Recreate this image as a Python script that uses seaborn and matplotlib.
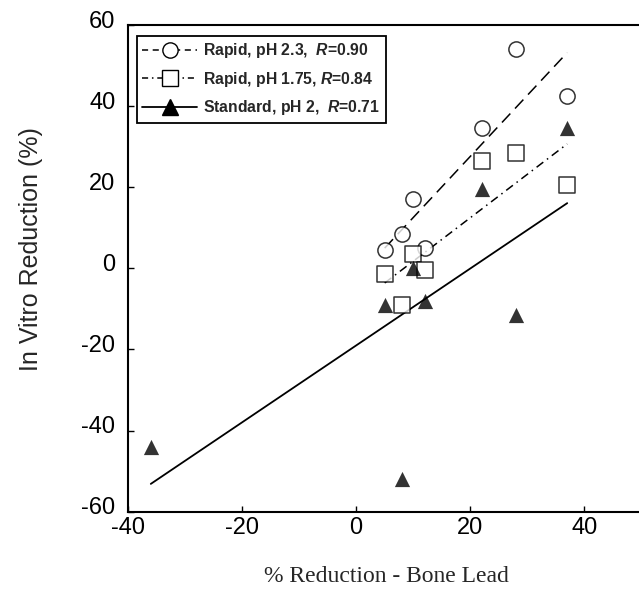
import matplotlib
matplotlib.use("Agg")
import matplotlib.pyplot as plt
import matplotlib.transforms as mtransforms
from matplotlib.lines import Line2D
import seaborn as sns
import pandas as pd

# data
x_rapid = [5, 8, 10, 12, 22, 28, 37]
y_rapid_23 = [4.5, 8.5, 17, 5, 34.5, 54, 42.5]
y_rapid_175 = [-1.5, -9, 3.5, -0.5, 26.5, 28.5, 20.5]
x_std = [-36, 5, 8, 10, 12, 22, 28, 37]
y_std = [-44, -9, -52, 0, -8, 19.5, -11.5, 34.5]

labels = ["Rapid, pH 2.3,  $R$=0.90",
          "Rapid, pH 1.75, $R$=0.84",
          "Standard, pH 2,  $R$=0.71"]

df_23 = pd.DataFrame({"bone": x_rapid, "vitro": y_rapid_23})
df_175 = pd.DataFrame({"bone": x_rapid, "vitro": y_rapid_175})
df_std = pd.DataFrame({"bone": x_std, "vitro": y_std})

sns.set_style("ticks")
plt.rcParams["font.family"] = ["Liberation Sans", "DejaVu Sans"]
plt.rcParams["mathtext.fontset"] = "custom"
plt.rcParams["mathtext.it"] = "Liberation Sans:italic:bold"
plt.rcParams["mathtext.rm"] = "Liberation Sans:bold"
plt.rcParams["axes.unicode_minus"] = False

fig = plt.figure(figsize=(6.39, 5.9), dpi=100)
ax = fig.add_axes([0.2003, 0.1327, 0.8034, 0.8249])

dash_23 = (8, 4.5)
dash_175 = (5.5, 3, 1, 3)

sns.regplot(data=df_23, x="bone", y="vitro", ax=ax, ci=None, truncate=True,
            marker="o",
            scatter_kws=dict(s=120, facecolor="white", edgecolor="black", linewidths=1.1, zorder=3),
            line_kws=dict(color="black", lw=1.1, dashes=dash_23, zorder=2))
sns.regplot(data=df_175, x="bone", y="vitro", ax=ax, ci=None, truncate=True,
            marker="s",
            scatter_kws=dict(s=120, facecolor="white", edgecolor="black", linewidths=1.1, zorder=3),
            line_kws=dict(color="black", lw=1.1, dashes=dash_175, zorder=2))
sns.regplot(data=df_std, x="bone", y="vitro", ax=ax, ci=None, truncate=True,
            marker="^",
            scatter_kws=dict(s=120, color="black", linewidths=0, zorder=4),
            line_kws=dict(color="black", lw=1.3, zorder=2))

ax.set_xlim(-40, 50)
ax.set_ylim(-60, 60)
ax.set_xticks([-40, -20, 0, 20, 40])
ax.set_yticks([-60, -40, -20, 0, 20, 40, 60])
ax.tick_params(direction="in", length=4, width=1, labelsize=17, colors="black")
ax.tick_params(axis="y", pad=9)
ax.tick_params(axis="x", pad=4)
for s in ax.spines.values():
    s.set_linewidth(1.5)
    s.set_color("black")

# y tick labels in the original sit a little above their ticks
off = mtransforms.ScaledTranslation(0, 0.06, fig.dpi_scale_trans)
for lab in ax.get_yticklabels():
    lab.set_transform(lab.get_transform() + off)

ax.set_xlabel("% Reduction - Bone Lead", fontsize=17, family=["Liberation Serif"])
ax.set_ylabel("In Vitro Reduction (%)", fontsize=18)
ax.xaxis.set_label_coords(0.5025, -0.112)
ax.yaxis.set_label_coords(-0.165, 0.54)

handles = [
    Line2D([], [], color="black", lw=1.1, dashes=(4, 3), marker="o", markersize=11,
           markerfacecolor="white", markeredgecolor="black"),
    Line2D([], [], color="black", lw=1.1, dashes=(4, 2.5, 1, 2.5), marker="s", markersize=11,
           markerfacecolor="white", markeredgecolor="black"),
    Line2D([], [], color="black", lw=1.3, marker="^", markersize=11,
           markerfacecolor="black", markeredgecolor="black"),
]
leg = ax.legend(handles, labels, loc="upper left", bbox_to_anchor=(0.017, 0.978),
                frameon=True, fancybox=False, framealpha=1, edgecolor="black",
                handlelength=3.5, handletextpad=0.4, labelspacing=0.6,
                borderpad=0.35, borderaxespad=0.0,
                prop=dict(weight="bold", size=11.3))
leg.get_frame().set_linewidth(1.3)

fig.savefig("out.png", dpi=100)
